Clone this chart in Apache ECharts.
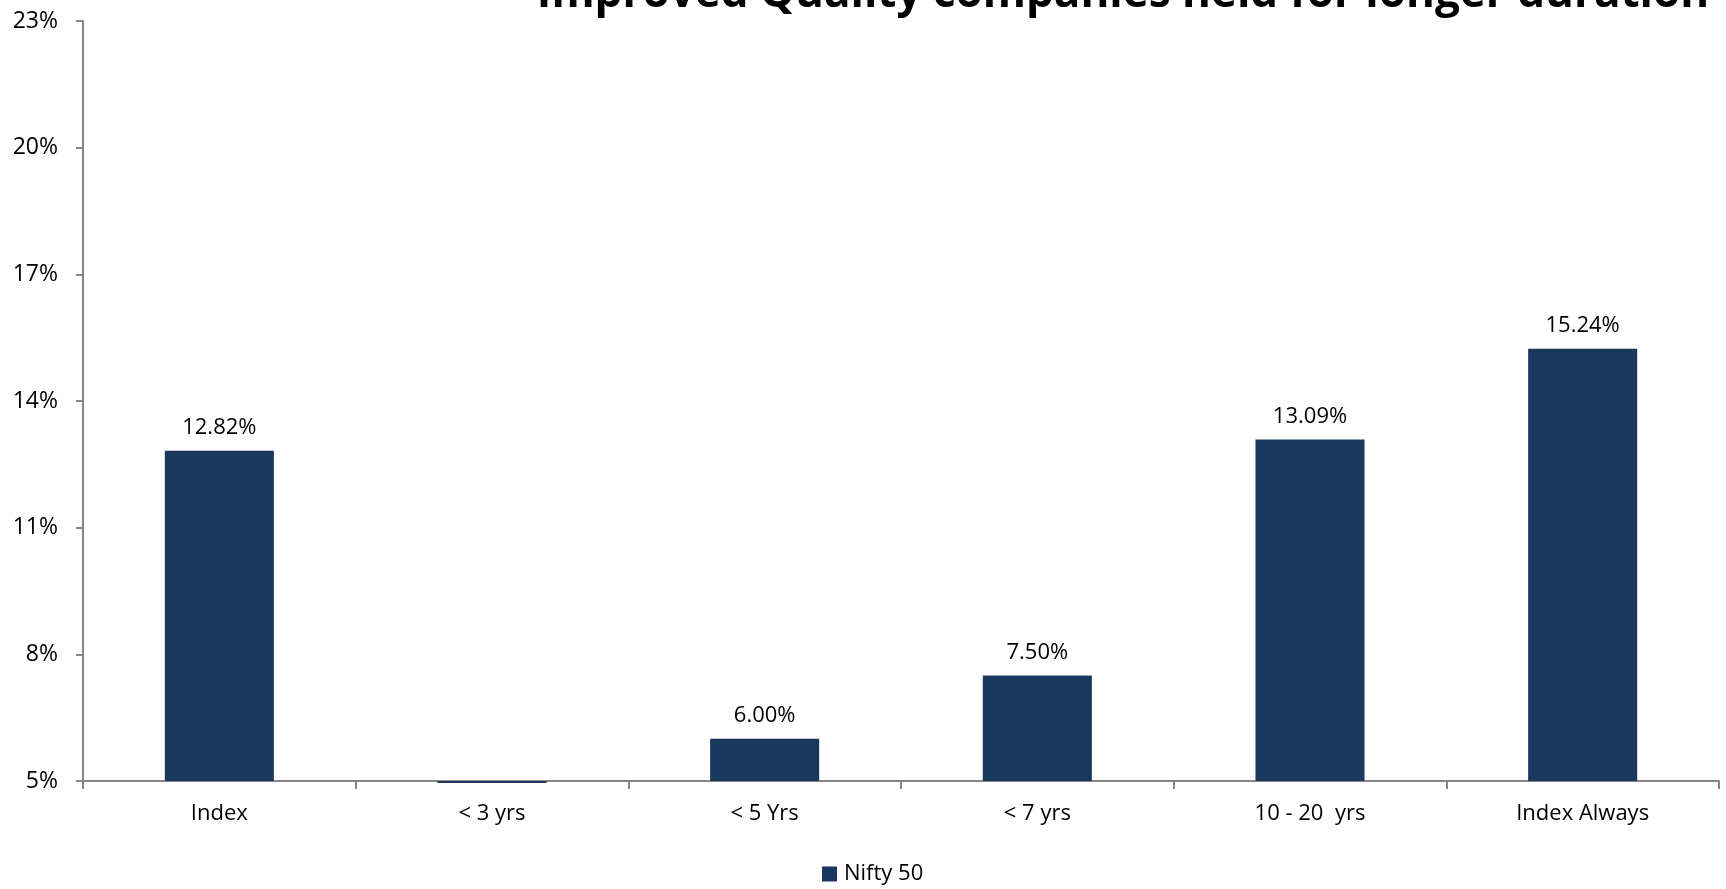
<!DOCTYPE html>
<html><head><meta charset="utf-8">
<script src="https://cdn.jsdelivr.net/npm/echarts@6/dist/echarts.min.js"></script>
<style>html,body{margin:0;padding:0;background:#fff}#c{width:1726px;height:889px}</style>
</head><body><div id="c"></div>
<script>
const titleText = 'Improved Quality companies held for longer duration';
const categories = ['Index', '< 3 yrs', '< 5 Yrs', '< 7 yrs', '10 - 20  yrs', 'Index Always'];
const seriesName = 'Nifty 50';
const values = [12.82, 4.95, 6.00, 7.50, 13.09, 15.24];
const showLabel = [true, false, true, true, true, true];
const yMin = 5, yMax = 23, yInterval = 3;

const FONT = 'Open Sans';
const AXIS = '#868686';
const chart = echarts.init(document.getElementById('c'));
chart.setOption({
  animation: false,
  textStyle: { fontFamily: FONT },
  title: {
    text: titleText, left: 1118, top: -33, textAlign: 'center',
    textStyle: { fontFamily: FONT, fontWeight: 'bold', fontSize: 44, color: '#000' }
  },
  legend: {
    data: [seriesName], top: 858, left: 817, icon: 'rect', itemWidth: 15, itemHeight: 15,
    textStyle: { fontFamily: FONT, fontSize: 22, color: '#000', padding: [0, 0, 0, 2] }
  },
  grid: { left: 83, right: 7, top: 21, bottom: 108, containLabel: false },
  xAxis: {
    type: 'category', data: categories, boundaryGap: true,
    axisLine: { lineStyle: { color: AXIS, width: 2 } },
    axisTick: { show: true, length: 8, lineStyle: { color: AXIS, width: 2 } },
    axisLabel: { fontFamily: FONT, fontSize: 22, color: '#000', margin: 22 }
  },
  yAxis: {
    type: 'value', min: yMin, max: yMax, interval: yInterval,
    axisLine: { show: true, lineStyle: { color: AXIS, width: 2 } },
    axisTick: { show: true, length: 7, lineStyle: { color: AXIS, width: 2 } },
    splitLine: { show: false },
    axisLabel: { formatter: '{value}%', fontFamily: FONT, fontSize: 23, color: '#000', margin: 25 }
  },
  series: [{
    name: 'base', type: 'bar', stack: 's', stackStrategy: 'all', barWidth: '40%',
    silent: true, itemStyle: { color: 'rgba(0,0,0,0)' },
    data: values.map(() => yMin)
  }, {
    name: seriesName, type: 'bar', stack: 's', stackStrategy: 'all', barWidth: '40%', clip: false,
    itemStyle: { color: '#1a375e' },
    data: values.map((v, i) => ({
      value: v - yMin,
      label: { show: showLabel[i] }
    })),
    label: {
      position: 'top', distance: 12, fontFamily: FONT, fontSize: 22, color: '#000',
      formatter: p => values[p.dataIndex].toFixed(2) + '%'
    }
  }]
});
</script></body></html>
